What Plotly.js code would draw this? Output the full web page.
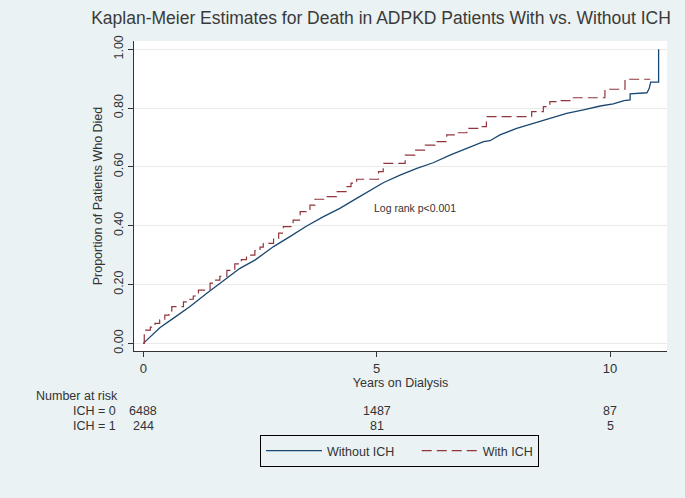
<!DOCTYPE html>
<html>
<head>
<meta charset="utf-8">
<script src="https://cdn.plot.ly/plotly-3.0.1.min.js"></script>
<style>
  html, body { margin: 0; padding: 0; background: #eaf2f3; }
  #chart { width: 685px; height: 498px; }
</style>
</head>
<body>
<div id="chart"></div>
<script>
// Without ICH (Kaplan-Meier cumulative death proportion)
const timeNoICH = [0, 0.14, 0.36, 0.64, 1.0, 1.36, 1.71, 2.07, 2.39, 2.79, 3.14, 3.5, 3.86, 4.21, 4.57, 4.86, 5.14, 5.5, 5.86, 6.21, 6.57, 6.93, 7.29, 7.43, 7.64, 8.0, 8.36, 8.71, 9.07, 9.43, 9.79, 10.07, 10.3, 10.43, 10.43, 10.79, 10.84, 10.87, 11.04, 11.04];
const probNoICH = [0, 0.022, 0.054, 0.085, 0.125, 0.17, 0.213, 0.255, 0.283, 0.329, 0.363, 0.399, 0.431, 0.459, 0.493, 0.521, 0.546, 0.572, 0.595, 0.614, 0.64, 0.663, 0.686, 0.689, 0.709, 0.731, 0.748, 0.765, 0.782, 0.794, 0.807, 0.814, 0.825, 0.828, 0.848, 0.852, 0.867, 0.888, 0.888, 1.0];

// With ICH (step function: time of each step and value after it)
const timeICH = [0, 0.02, 0.15, 0.25, 0.35, 0.46, 0.55, 0.61, 0.86, 1.0, 1.07, 1.18, 1.43, 1.55, 1.64, 1.79, 1.96, 2.1, 2.21, 2.39, 2.5, 2.57, 2.79, 2.9, 3.0, 3.21, 3.36, 3.57, 3.68, 3.94, 4.14, 4.36, 4.45, 4.57, 5.04, 5.14, 5.61, 5.82, 6.04, 6.25, 6.5, 6.71, 6.93, 7.2, 7.35, 8.32, 8.57, 8.71, 8.93, 9.14, 9.89, 10.32, 10.86];
const probICH = [0, 0.045, 0.055, 0.068, 0.08, 0.096, 0.11, 0.125, 0.141, 0.15, 0.161, 0.181, 0.205, 0.215, 0.228, 0.248, 0.27, 0.285, 0.3, 0.315, 0.327, 0.34, 0.357, 0.375, 0.397, 0.419, 0.448, 0.47, 0.49, 0.499, 0.516, 0.533, 0.545, 0.558, 0.584, 0.612, 0.64, 0.657, 0.674, 0.686, 0.709, 0.716, 0.731, 0.737, 0.771, 0.788, 0.805, 0.822, 0.825, 0.835, 0.864, 0.898, 0.898];

// Number at risk table
const riskTimes = [0, 5, 10];
const riskNoICH = [6488, 1487, 87];
const riskICH = [244, 81, 5];
const riskLabels = ["ICH = 0", "ICH = 1"];

const yTickVals = [0, 0.2, 0.4, 0.6, 0.8, 1.0];
const yTickText = ["0.00", "0.20", "0.40", "0.60", "0.80", "1.00"];
const xTickVals = [0, 5, 10];

const FONT = "Liberation Sans, Arial, sans-serif";
const TXT = "#333333";
const NB = "\u00a0";

// plot area pixel geometry helpers (paper coords)
const plotLeft = 134, plotW = 533;
const plotTop = 41, plotBottom = 351, plotH = plotBottom - plotTop;
const py = (pix) => -(pix - plotBottom) / plotH;
const px = (pix) => (pix - plotLeft) / plotW;

const traces = [
  {
    x: timeNoICH, y: probNoICH, type: "scatter", mode: "lines",
    name: "Without ICH" + NB.repeat(5),
    line: { color: "#1a476f", width: 1.3, shape: "linear" }
  },
  {
    x: timeICH, y: probICH, type: "scatter", mode: "lines",
    name: "With ICH",
    line: { color: "#90353b", width: 1.2, shape: "hv", dash: "10px,5px" }
  }
];

const annotations = [
  { x: 4.9, y: 0.46, xref: "x", yref: "y", text: "Log rank p<0.001", showarrow: false,
    xanchor: "left", yanchor: "middle", font: { family: FONT, size: 10.5, color: TXT } },
  { x: px(34), y: py(396), xref: "paper", yref: "paper", text: "Number at risk", showarrow: false,
    xanchor: "left", yanchor: "middle", font: { family: FONT, size: 12.5, color: TXT } }
];

riskLabels.forEach((lab, i) => {
  annotations.push({ x: px(118), y: py(411 + 15 * i), xref: "paper", yref: "paper",
    text: lab, showarrow: false, xanchor: "right", yanchor: "middle",
    font: { family: FONT, size: 12.5, color: TXT } });
});
riskTimes.forEach((t, j) => {
  annotations.push({ x: t, y: py(411), xref: "x", yref: "paper", text: String(riskNoICH[j]),
    showarrow: false, xanchor: "center", yanchor: "middle", font: { family: FONT, size: 12.5, color: TXT } });
  annotations.push({ x: t, y: py(426), xref: "x", yref: "paper", text: String(riskICH[j]),
    showarrow: false, xanchor: "center", yanchor: "middle", font: { family: FONT, size: 12.5, color: TXT } });
});

const layout = {
  width: 685, height: 498,
  margin: { l: 134, r: 18, t: 41, b: 147 },
  paper_bgcolor: "#eaf2f3",
  plot_bgcolor: "#ffffff",
  font: { family: FONT, color: TXT, size: 12.5 },
  title: {
    text: "Kaplan-Meier Estimates for Death in ADPKD Patients With vs. Without ICH",
    x: 381 / 685, xanchor: "center", y: 1 - 18 / 498, yanchor: "middle",
    font: { family: FONT, size: 17.5, color: "#3a3a3a" }
  },
  xaxis: {
    range: [-0.2, 11.22], tickvals: xTickVals, ticks: "outside", ticklen: 5, tickcolor: "#333",
    showline: true, linecolor: "#333", linewidth: 1, showgrid: false, zeroline: false,
    tickfont: { family: FONT, size: 13, color: TXT },
    title: { text: "Years on Dialysis", standoff: 0, font: { family: FONT, size: 12.5, color: TXT } }
  },
  yaxis: {
    range: [-0.026, 1.028], tickvals: yTickVals, ticktext: yTickText, tickangle: -90,
    ticks: "outside", ticklen: 5, tickcolor: "#333",
    showline: true, linecolor: "#333", linewidth: 1, showgrid: true, gridcolor: "#eaeaea",
    zeroline: false, tickfont: { family: FONT, size: 12.5, color: TXT },
    title: { text: "Proportion of Patients Who Died", standoff: 6, font: { family: FONT, size: 12.5, color: TXT } }
  },
  showlegend: true,
  legend: {
    orientation: "h", x: px(260), y: py(435), xanchor: "left", yanchor: "top",
    bgcolor: "#eaf2f3", bordercolor: "#000", borderwidth: 1,
    font: { family: FONT, size: 12.5, color: TXT },
    itemwidth: 56
  },
  annotations: annotations
};

Plotly.newPlot("chart", traces, layout, { staticPlot: true, displayModeBar: false });
</script>
</body>
</html>
